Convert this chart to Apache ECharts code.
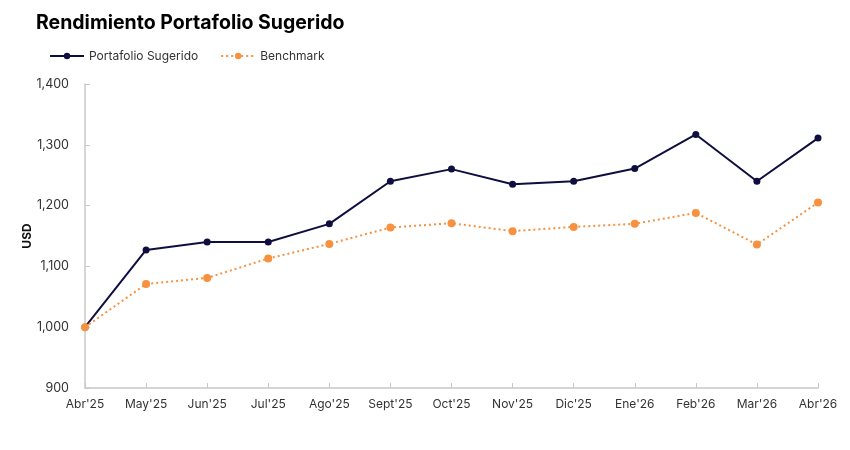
<!DOCTYPE html>
<html>
<head>
<meta charset="utf-8">
<script src="https://cdn.jsdelivr.net/npm/echarts@6/dist/echarts.min.js"></script>
<style>html,body{margin:0;padding:0;background:#fff}#c{width:850px;height:450px}</style>
</head>
<body>
<div id="c"></div>
<script>
const categories = ["Abr'25","May'25","Jun'25","Jul'25","Ago'25","Sept'25","Oct'25","Nov'25","Dic'25","Ene'26","Feb'26","Mar'26","Abr'26"];
const portafolio = [1000,1127,1140,1140,1170,1240,1260,1235,1240,1261,1317,1240,1311];
const benchmark = [1000,1071,1081,1113,1137,1164,1171,1158,1165,1170,1188,1136,1205];
const seriesNames = ["Portafolio Sugerido","Benchmark"];

const FONT = "Inter, 'Noto Sans', sans-serif";
const chart = echarts.init(document.getElementById('c'));
chart.setOption({
  animation: false,
  textStyle: {fontFamily: FONT},
  title: {
    text: 'Rendimiento Portafolio Sugerido',
    left: 31, top: 8,
    textStyle: {fontFamily: FONT, fontWeight: 'bold', fontSize: 19.5, color: '#000'}
  },
  legend: {
    left: 44, top: 45,
    itemWidth: 34, itemHeight: 8, itemGap: 22,
    textStyle: {fontFamily: FONT, fontSize: 12, color: '#333'},
    data: seriesNames
  },
  grid: {left: 85, right: 32, top: 84, bottom: 62, containLabel: false},
  xAxis: {
    type: 'category',
    data: categories,
    boundaryGap: false,
    axisLine: {lineStyle: {color: '#c8c8c8', width: 1.5}},
    axisTick: {inside: true, length: 5, interval: 0, lineStyle: {color: '#c8c8c8'}},
    axisLabel: {color: '#333', fontSize: 12, margin: 10, interval: 0, fontFamily: FONT},
    splitLine: {show: false}
  },
  yAxis: {
    type: 'value',
    min: 900, max: 1400, interval: 100,
    name: 'USD',
    nameLocation: 'middle',
    nameGap: 52,
    nameMoveOverlap: false,
    nameRotate: 90,
    nameTextStyle: {fontWeight: 'bold', fontSize: 12, color: '#111', fontFamily: FONT},
    axisLine: {show: true, lineStyle: {color: '#c8c8c8', width: 1.5}},
    axisTick: {show: true, inside: true, length: 5, lineStyle: {color: '#c8c8c8'}},
    axisLabel: {color: '#333', fontSize: 12.5, margin: 16, fontFamily: FONT,
      formatter: v => v.toLocaleString('en-US')},
    splitLine: {show: false}
  },
  series: [
    {
      name: seriesNames[0], type: 'line', data: portafolio,
      symbol: 'circle', symbolSize: 7,
      lineStyle: {color: '#0f0f3f', width: 2},
      itemStyle: {color: '#0f0f3f'},
      z: 3
    },
    {
      name: seriesNames[1], type: 'line', data: benchmark,
      symbol: 'circle', symbolSize: 8,
      lineStyle: {color: '#f7913f', width: 2, type: [2, 3]},
      itemStyle: {color: '#f7913f'},
      z: 4
    }
  ]
});
</script>
</body>
</html>
